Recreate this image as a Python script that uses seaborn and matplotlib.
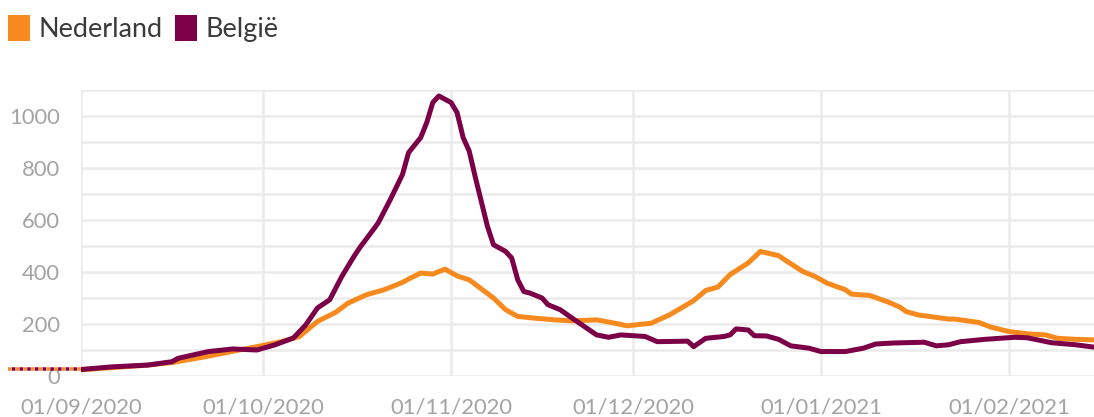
import matplotlib
matplotlib.use("Agg")
import matplotlib.pyplot as plt
import pandas as pd
import seaborn as sns
from matplotlib.patches import Patch

START = "2020-09-01"

# Days after 01/09/2020 and 7-day values
nl_day = [0, 5, 11, 15, 20, 25, 29, 33, 36, 39, 42, 44, 47, 50, 53, 54, 56, 58, 60,
          62, 64, 66, 68, 70, 72, 75, 78, 81, 85, 88, 90, 94, 97, 99, 101, 103, 105,
          107, 110, 112, 115, 116, 119, 121, 123, 126, 127, 130, 133, 135, 136, 138,
          143, 144, 148, 150, 153, 156, 159, 161, 164, 167]
nl_value = [24, 32, 42, 52, 72, 95, 113, 132, 152, 210, 245, 280, 312, 332, 360, 373,
            396, 392, 411, 385, 370, 335, 300, 255, 229, 222, 216, 212, 216, 203, 193,
            203, 235, 262, 290, 329, 342, 390, 435, 479, 463, 447, 402, 383, 357, 332,
            315, 310, 285, 265, 248, 235, 219, 219, 206, 188, 171, 162, 158, 145, 141, 139]

be_day = [0, 5, 11, 15, 16, 21, 25, 29, 32, 35, 37, 39, 41, 43, 45, 46, 48, 49, 51, 53,
          54, 56, 57, 58, 59, 61, 62, 63, 64, 65, 67, 68, 70, 71, 72, 73, 74, 76, 77,
          79, 81, 83, 85, 87, 89, 93, 95, 100, 101, 103, 106, 107, 108, 110, 111, 113,
          115, 117, 120, 122, 126, 129, 131, 134, 139, 141, 143, 145, 149, 154, 156,
          160, 164, 167]
be_value = [25, 35, 42, 55, 68, 94, 104, 100, 120, 146, 195, 262, 293, 383, 460, 495,
            557, 589, 679, 775, 859, 917, 975, 1052, 1077, 1052, 1013, 917, 865, 765,
            576, 505, 479, 454, 370, 325, 319, 300, 274, 255, 222, 190, 158, 149, 158,
            152, 132, 134, 113, 145, 152, 158, 181, 177, 155, 154, 141, 116, 107, 94,
            94, 107, 123, 127, 130, 116, 120, 132, 141, 149, 147, 128, 120, 111]

# dotted lead-in before the first date
lead_day = [-12, 0]
lead_nl = [26, 26]
lead_be = [27, 27]

names = ["Nederland", "België"]
colors = ["#f68a1e", "#7b0047"]

month_ticks = ["2020-09-01", "2020-10-01", "2020-11-01", "2020-12-01", "2021-01-01", "2021-02-01"]
month_labels = ["01/09/2020", "01/10/2020", "01/11/2020", "01/12/2020", "01/01/2021", "01/02/2021"]
y_ticks = list(range(0, 1101, 100))
y_labels = [str(v) if (v % 200 == 0 and v <= 1000) else "" for v in y_ticks]

start = pd.Timestamp(START)
to_dates = lambda d: start + pd.to_timedelta(d, unit="D")

df = pd.concat([
    pd.DataFrame({"date": to_dates(nl_day), "value": nl_value, "land": names[0]}),
    pd.DataFrame({"date": to_dates(be_day), "value": be_value, "land": names[1]}),
])

sns.set_theme(style="white")
plt.rcParams["font.family"] = ["Lato", "DejaVu Sans"]

W, H = 1094, 417
fig = plt.figure(figsize=(W / 72 + 1e-6, H / 72 + 1e-6), dpi=72)
ax = fig.add_axes([81 / W, 1 - 376 / H, 1 - 81 / W, (376 - 90) / H])

grid_c = "#ebebeb"
sns.lineplot(data=df, x="date", y="value", hue="land", hue_order=names,
             palette=colors, linewidth=5, ax=ax, legend=False)
for ln in ax.lines:
    ln.set_solid_joinstyle("round")
    ln.set_solid_capstyle("round")

# dotted lead-in (outside the plot area)
ax.plot(to_dates(lead_day), lead_nl, color=colors[0], lw=3.5,
        ls=(0, (1, 1.2)), clip_on=False)
ax.plot(to_dates(lead_day), lead_be, color=colors[1], lw=3.5,
        ls=(1.1, (1, 1.2)), clip_on=False)

ax.set_xlim(start, pd.Timestamp("2021-02-15"))
ax.set_ylim(0, 1100)
ax.set_xticks(pd.to_datetime(month_ticks))
ax.set_xticklabels(month_labels)
ax.set_yticks(y_ticks)
ax.set_yticklabels(y_labels)
ax.set_xlabel("")
ax.set_ylabel("")

ax.grid(True, color=grid_c, linewidth=2.5)
ax.set_axisbelow(True)
for s in ax.spines.values():
    s.set_visible(False)
ax.tick_params(axis="both", length=14, width=2.5, color=grid_c,
               labelcolor="#a3a3a3", labelsize=22, pad=7)

handles = [Patch(facecolor=c, edgecolor=c, linewidth=4, joinstyle="round", label=n)
           for n, c in zip(names, colors)]
fig.legend(handles=handles, loc="upper left", bbox_to_anchor=(10 / W, 1 - 17 / H),
           ncol=2, frameon=False, fontsize=27, handlelength=0.68, handleheight=0.88,
           handletextpad=0.36, columnspacing=0.55, borderpad=0, borderaxespad=0,
           labelcolor="#3a3a3a")

fig.savefig("out.png", dpi=72)
